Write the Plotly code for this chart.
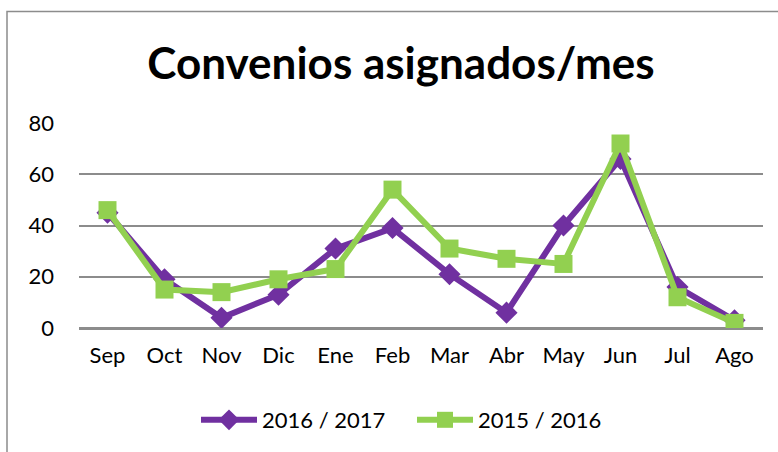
import plotly.graph_objects as go

months = ["Sep", "Oct", "Nov", "Dic", "Ene", "Feb", "Mar", "Abr", "May", "Jun", "Jul", "Ago"]
s_2016_2017 = [45, 19, 4, 13, 31, 39, 21, 6, 40, 66, 16, 3]
s_2015_2016 = [46, 15, 14, 19, 23, 54, 31, 27, 25, 72, 12, 2]
y_ticks = [0, 20, 40, 60, 80]

W, H = 778, 452
L, R, T, B = 79, 763, 123, 329
pw, ph = R - L, B - T

fig = go.Figure()
fig.add_trace(go.Scatter(
    x=months, y=s_2016_2017, name="2016 / 2017", mode="lines+markers",
    line=dict(color="#7030A0", width=6),
    marker=dict(symbol="diamond", size=17, color="#7030A0"),
))
fig.add_trace(go.Scatter(
    x=months, y=s_2015_2016, name="2015 / 2016", mode="lines+markers",
    line=dict(color="#92D050", width=6),
    marker=dict(symbol="square", size=18, color="#92D050"),
))

font_family = "Lato, 'Open Sans', sans-serif"

fig.update_layout(
    width=W, height=H,
    margin=dict(l=L, r=W - R, t=T, b=H - B),
    paper_bgcolor="white", plot_bgcolor="white",
    font=dict(family=font_family, size=22, color="black"),
    title=dict(text="<b>Convenios asignados/mes</b>", x=401 / W, xanchor="center",
               y=1 - 64 / H, yanchor="middle",
               font=dict(family=font_family, size=44, color="black")),
    showlegend=True,
    legend=dict(orientation="h", x=(196 - L) / pw, xanchor="left",
                y=(B - 420) / ph, yanchor="middle",
                font=dict(size=22), itemwidth=56, entrywidth=145,
                bgcolor="rgba(0,0,0,0)"),
    xaxis=dict(showgrid=False, showline=False, zeroline=False, ticks="",
               tickfont=dict(size=22), ticklabelstandoff=12,
               range=[-0.5, 11.5]),
    yaxis=dict(range=[0, 80], tickvals=y_ticks, showgrid=True,
               gridcolor="#8c8c8c", gridwidth=2, zeroline=True,
               zerolinecolor="#8c8c8c", zerolinewidth=3, showline=False,
               ticks="", tickfont=dict(size=22), ticklabelstandoff=24),
    shapes=[dict(type="rect", xref="paper", yref="paper",
                 x0=(7 - L) / pw, x1=(800 - L) / pw,
                 y0=(B - 480) / ph, y1=(B - 11) / ph,
                 line=dict(color="#8c8c8c", width=1.5), layer="below")],
)

fig.write_html("out.html", config={"displayModeBar": False},
               post_script="document.body.style.margin='0';document.body.style.overflow='hidden';")
